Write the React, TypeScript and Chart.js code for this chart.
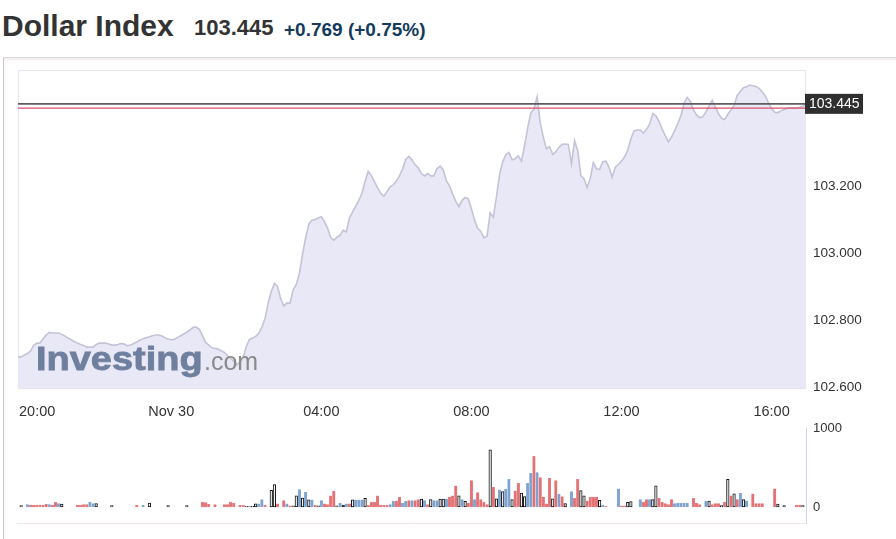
import React, { useEffect, useRef } from 'react';
import { Chart, registerables } from 'chart.js';

Chart.register(...registerables);

// ---- data ----
const titleText = 'Dollar Index';
const lastPriceText = '103.445';
const changeText = '+0.769 (+0.75%)';

// minutes relative to 20:00 (Nov 29); 5-minute bars starting 19:55
const startMinute = -5;
const stepMinutes = 5;

const prices = [
  102.690, 102.690, 102.695, 102.700, 102.707, 102.724, 102.731, 102.731, 102.743, 102.755,
  102.763, 102.761, 102.761, 102.761, 102.757, 102.752, 102.746, 102.741, 102.736, 102.731,
  102.727, 102.724, 102.719, 102.719, 102.719, 102.727, 102.731, 102.731, 102.731, 102.728,
  102.725, 102.725, 102.727, 102.730, 102.728, 102.723, 102.725, 102.730, 102.734, 102.740,
  102.744, 102.747, 102.750, 102.753, 102.755, 102.755, 102.752, 102.747, 102.743, 102.741,
  102.742, 102.748, 102.753, 102.758, 102.764, 102.770, 102.778, 102.779, 102.772, 102.753,
  102.733, 102.725, 102.717, 102.715, 102.713, 102.708, 102.703, 102.694, 102.685, 102.676,
  102.666, 102.675, 102.687, 102.720, 102.742, 102.746, 102.751, 102.760, 102.779, 102.804,
  102.851, 102.885, 102.909, 102.900, 102.864, 102.842, 102.851, 102.850, 102.890, 102.906,
  102.939, 102.997, 103.046, 103.086, 103.098, 103.100, 103.104, 103.108, 103.094, 103.074,
  103.046, 103.038, 103.047, 103.053, 103.068, 103.063, 103.105, 103.122, 103.140, 103.157,
  103.178, 103.214, 103.244, 103.231, 103.213, 103.195, 103.178, 103.170, 103.183, 103.197,
  103.203, 103.215, 103.230, 103.251, 103.279, 103.288, 103.278, 103.263, 103.254, 103.237,
  103.230, 103.237, 103.230, 103.230, 103.252, 103.259, 103.248, 103.215, 103.200, 103.176,
  103.154, 103.138, 103.157, 103.166, 103.162, 103.132, 103.098, 103.073, 103.065, 103.045,
  103.050, 103.120, 103.107, 103.167, 103.234, 103.272, 103.293, 103.300, 103.278, 103.281,
  103.290, 103.274, 103.320, 103.374, 103.418, 103.429, 103.466, 103.389, 103.345, 103.311,
  103.317, 103.294, 103.302, 103.315, 103.324, 103.325, 103.324, 103.266, 103.335, 103.305,
  103.231, 103.222, 103.195, 103.222, 103.270, 103.251, 103.249, 103.272, 103.274, 103.256,
  103.226, 103.256, 103.264, 103.274, 103.287, 103.307, 103.341, 103.364, 103.367, 103.367,
  103.358, 103.369, 103.384, 103.416, 103.409, 103.393, 103.370, 103.350, 103.331, 103.346,
  103.365, 103.386, 103.410, 103.446, 103.464, 103.453, 103.427, 103.412, 103.404, 103.406,
  103.421, 103.439, 103.456, 103.436, 103.416, 103.402, 103.398, 103.414, 103.427, 103.440,
  103.470, 103.482, 103.493, 103.496, 103.501, 103.499, 103.497, 103.491, 103.481, 103.468,
  103.448, 103.431, 103.420, 103.419, 103.424, 103.428, 103.432, 103.433, 103.433, 103.433,
  103.435, 103.438, 103.445,
];

const volumes = [
  0, 17, 0, 29, 25, 25, 25, 25, 25, 38,
  30, 25, 58, 42, 38, 0, 0, 0, 0, 25,
  25, 30, 30, 63, 42, 42, 0, 0, 0, 0,
  17, 0, 0, 0, 0, 0, 0, 0, 25, 0,
  25, 0, 50, 0, 0, 0, 0, 0, 17, 0,
  0, 0, 0, 0, 17, 0, 0, 0, 0, 63,
  55, 38, 0, 30, 0, 0, 30, 30, 63, 50,
  0, 20, 20, 8, 8, 8, 40, 40, 92, 20,
  0, 210, 283, 40, 0, 80, 40, 15, 15, 140,
  220, 114, 185, 90, 90, 20, 15, 80, 40, 30,
  140, 200, 15, 50, 25, 40, 40, 90, 90, 90,
  90, 110, 20, 60, 60, 140, 25, 20, 25, 30,
  75, 75, 126, 50, 70, 80, 80, 80, 92, 100,
  80, 30, 95, 80, 80, 100, 100, 104, 125, 140,
  267, 140, 92, 70, 50, 333, 92, 183, 92, 58,
  30, 725, 250, 104, 217, 196, 225, 354, 92, 204,
  300, 175, 130, 300, 425, 642, 434, 371, 125, 40,
  363, 104, 333, 163, 133, 42, 0, 196, 108, 350,
  208, 142, 79, 125, 125, 125, 83, 20, 10, 0,
  0, 0, 229, 15, 15, 58, 67, 0, 0, 92,
  58, 92, 92, 92, 267, 112, 58, 42, 29, 92,
  42, 50, 50, 50, 50, 0, 108, 50, 29, 0,
  75, 75, 29, 42, 42, 17, 58, 350, 142, 167,
  92, 175, 92, 79, 0, 167, 42, 42, 42, 0,
  0, 0, 229, 38, 0, 17, 0, 0, 0, 25,
  25, 17, 0,
];

// r = down bar, b = up bar, k = outlined bar, - = none
const volumeSides = [
  '-k-brrrrrr', 'brrbk----r', 'rrrbbk----', 'k-------r-', 'b-k-----k-',
  '----k----r', 'rr-r--rrrr', '-rrkbkkbbr', '-kkr-rbrkk', 'bkbkbrkbrr',
  'rrkbkbrkbb', 'bkrrrrrrrb', 'brrbbrbrrk', 'brkbbkkbrr', 'rkbkrrbrrr',
  'rkrkbkbbkr', 'rkkbbrbrrr', 'rkrbrk-brr', 'kkrrrrkbr-', '--brrkk--b',
  'rrbkkrrrrr', 'bbbbb-rrr-', 'bkrrrkrkrk', 'rbkb-rrrr-', '--rk-k---r',
  'rk-',
].join('').split('');

const lastPrice = 103.445;
const refLinePrice = 103.432;
const priceTicks = [102.6, 102.8, 103.0, 103.2];
const volumeTicks = [0, 1000];
const xTickMinutes = [0, 240, 480, 720, 960, 1200];
const xTickLabels = ['20:00', 'Nov 30', '04:00', '08:00', '12:00', '16:00'];

const FONT = '"Liberation Sans", Arial, Helvetica, sans-serif';

const xMin = startMinute;
const xMax = startMinute + (prices.length - 1) * stepMinutes;

export default function App() {
  const priceRef = useRef<HTMLCanvasElement | null>(null);
  const volRef = useRef<HTMLCanvasElement | null>(null);

  useEffect(() => {
    const framePlugin = {
      id: 'frame',
      beforeDatasetsDraw(chart: any) {
        const { ctx, chartArea: a } = chart;
        ctx.save();
        ctx.strokeStyle = '#e9e3ef';
        ctx.lineWidth = 1;
        ctx.strokeRect(a.left + 0.5, a.top + 0.5, a.right - a.left - 1, a.bottom - a.top);
        ctx.restore();
      },
    };

    const priceOverlay = {
      id: 'priceOverlay',
      afterDraw(chart: any) {
        const { ctx, chartArea: a } = chart;
        const ys = chart.scales.y;
        const xs = chart.scales.x;
        ctx.save();
        // reference line (red)
        const yr = ys.getPixelForValue(refLinePrice);
        ctx.strokeStyle = '#dc4f69';
        ctx.lineWidth = 1.3;
        ctx.beginPath();
        ctx.moveTo(a.left, yr);
        ctx.lineTo(a.right, yr);
        ctx.stroke();
        // last price line
        const yl = ys.getPixelForValue(lastPrice);
        ctx.strokeStyle = '#5e5e5e';
        ctx.lineWidth = 1.6;
        ctx.beginPath();
        ctx.moveTo(a.left, yl);
        ctx.lineTo(a.right, yl);
        ctx.stroke();
        // price tag
        ctx.fillStyle = '#2f2f2f';
        ctx.fillRect(a.right - 1, yl - 10, 58, 20);
        ctx.fillStyle = '#ffffff';
        ctx.font = `14px ${FONT}`;
        ctx.textBaseline = 'middle';
        ctx.textAlign = 'left';
        ctx.fillText(lastPrice.toFixed(3), a.right + 3, yl + 0.5);
        // x labels
        ctx.fillStyle = '#333333';
        ctx.font = `14.5px ${FONT}`;
        ctx.textBaseline = 'alphabetic';
        xTickMinutes.forEach((m, i) => {
          const label = xTickLabels[i];
          const px = xs.getPixelForValue(m);
          const w = ctx.measureText(label).width;
          let left = px - w / 2;
          if (left < a.left + 1) left = a.left + 1;
          if (left + w > a.right) left = a.right - w;
          ctx.fillText(label, left, a.bottom + 28);
        });
        ctx.restore();
      },
    };

    const priceChart = new Chart(priceRef.current as HTMLCanvasElement, {
      type: 'line',
      data: {
        datasets: [
          {
            data: prices.map((p, i) => ({ x: startMinute + i * stepMinutes, y: p })),
            borderColor: '#c4c3d8',
            borderWidth: 1.6,
            backgroundColor: '#e8e8f6',
            fill: 'start',
            pointRadius: 0,
            tension: 0,
          },
        ],
      },
      options: {
        responsive: false,
        animation: false,
        devicePixelRatio: 1,
        layout: { padding: { left: 18, top: 70, right: 0, bottom: 151 } },
        plugins: { legend: { display: false }, tooltip: { enabled: false } },
        scales: {
          x: { type: 'linear', min: xMin, max: xMax, display: false },
          y: {
            position: 'right',
            min: 102.597,
            max: 103.546,
            afterFit: (s: any) => {
              s.width = 90;
            },
            afterBuildTicks: (s: any) => {
              s.ticks = priceTicks.map((v) => ({ value: v }));
            },
            grid: { display: false, drawTicks: false },
            border: { display: false },
            ticks: {
              padding: 7,
              color: '#333333',
              font: { family: FONT, size: 13.5 },
              callback: (v: any) => Number(v).toFixed(3),
            },
          },
        },
      } as any,
      plugins: [framePlugin, priceOverlay],
    });

    const volFrame = {
      id: 'volFrame',
      afterDraw(chart: any) {
        const { ctx, chartArea: a } = chart;
        ctx.save();
        ctx.strokeStyle = '#f0e6ee';
        ctx.lineWidth = 1;
        ctx.beginPath();
        ctx.moveTo(a.left - 1, a.bottom + 0.5);
        ctx.lineTo(a.right, a.bottom + 0.5);
        ctx.stroke();
        ctx.restore();
      },
    };

    const fillFor = (s: string) =>
      s === 'r' ? '#e37174' : s === 'b' ? '#7ea3cf' : s === 'k' ? '#f4f6fb' : 'rgba(0,0,0,0)';
    const borderFor = (s: string) =>
      s === 'r' ? '#e98c90' : s === 'b' ? '#92b2d8' : s === 'k' ? '#111111' : 'rgba(0,0,0,0)';

    const volChart = new Chart(volRef.current as HTMLCanvasElement, {
      type: 'bar',
      data: {
        datasets: [
          {
            data: volumes.map((v, i) => ({ x: startMinute + i * stepMinutes, y: v })),
            backgroundColor: volumeSides.map(fillFor),
            borderColor: volumeSides.map(borderFor),
            borderWidth: volumeSides.map((s) => (s === 'k' ? 1 : 0.5)),
            borderSkipped: false,
            barThickness: 2.6,
          },
        ],
      },
      options: {
        responsive: false,
        animation: false,
        devicePixelRatio: 1,
        layout: { padding: { left: 18, top: 428, right: 0, bottom: 16 } },
        plugins: { legend: { display: false }, tooltip: { enabled: false } },
        scales: {
          x: { type: 'linear', min: xMin, max: xMax, display: false, offset: false },
          y: {
            position: 'right',
            min: -203,
            max: 1000,
            afterFit: (s: any) => {
              s.width = 90;
            },
            afterBuildTicks: (s: any) => {
              s.ticks = volumeTicks.map((v) => ({ value: v }));
            },
            grid: { display: false, drawTicks: false },
            border: { display: true, color: '#cdd7e5', width: 1 },
            ticks: {
              padding: 7,
              color: '#333333',
              font: { family: FONT, size: 13 },
              callback: (v: any) => String(v),
            },
          },
        },
      } as any,
      plugins: [volFrame],
    });

    return () => {
      priceChart.destroy();
      volChart.destroy();
    };
  }, []);

  return (
    <div
      style={{
        position: 'fixed',
        left: 0,
        top: 0,
        width: 896,
        height: 539,
        background: '#ffffff',
        overflow: 'hidden',
        fontFamily: FONT,
      }}
    >
      <div
        style={{
          position: 'absolute',
          left: 2,
          top: 10.6,
          fontSize: 30,
          lineHeight: '30px',
          fontWeight: 700,
          color: '#333333',
          whiteSpace: 'nowrap',
        }}
      >
        {titleText}
      </div>
      <div
        style={{
          position: 'absolute',
          left: 194,
          top: 17.4,
          fontSize: 22,
          lineHeight: '22px',
          fontWeight: 700,
          color: '#333333',
          whiteSpace: 'nowrap',
        }}
      >
        {lastPriceText}
      </div>
      <div
        style={{
          position: 'absolute',
          left: 284,
          top: 19.9,
          fontSize: 19,
          lineHeight: '19px',
          fontWeight: 700,
          color: '#143a5c',
          whiteSpace: 'nowrap',
        }}
      >
        {changeText}
      </div>
      <div
        style={{
          position: 'absolute',
          left: 3,
          top: 57,
          width: 900,
          height: 500,
          borderLeft: '1px solid #c8c8c8',
          borderTop: '1px solid #dadada',
          boxShadow: 'inset 0 2px 2px rgba(230,215,225,0.5)',
        }}
      />
      <canvas
        ref={priceRef}
        width={896}
        height={539}
        style={{ position: 'absolute', left: 0, top: 0, width: 896, height: 539 }}
      />
      <canvas
        ref={volRef}
        width={896}
        height={539}
        style={{ position: 'absolute', left: 0, top: 0, width: 896, height: 539 }}
      />
      <div
        style={{
          position: 'absolute',
          left: 36,
          top: 342,
          fontSize: 33,
          lineHeight: '33px',
          fontWeight: 700,
          color: '#6f7f9e',
          WebkitTextStroke: '0.8px #6f7f9e',
          transform: 'scaleX(1.15)',
          transformOrigin: 'left top',
          whiteSpace: 'nowrap',
          pointerEvents: 'none',
        }}
      >
        Investing
      </div>
      <div
        style={{
          position: 'absolute',
          left: 204,
          top: 348.8,
          fontSize: 25,
          lineHeight: '25px',
          color: '#8a8a8a',
          whiteSpace: 'nowrap',
          pointerEvents: 'none',
        }}
      >
        .com
      </div>
    </div>
  );
}
